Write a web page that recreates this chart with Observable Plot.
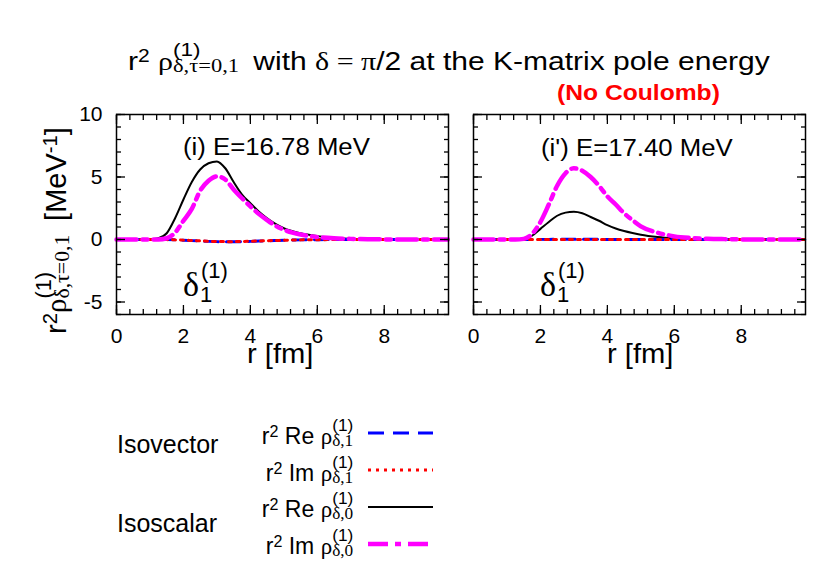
<!DOCTYPE html>
<html><head><meta charset="utf-8">
<script src="https://cdn.jsdelivr.net/npm/d3@7"></script>
<script src="https://cdn.jsdelivr.net/npm/@observablehq/plot@0.6"></script>
<style>
html,body{margin:0;padding:0;background:#fff;}
#wrap{position:relative;width:830px;height:577px;overflow:hidden;background:#fff;font-family:"Liberation Sans",Arial,sans-serif;color:#000;}
.t{position:absolute;white-space:nowrap;line-height:1;transform-origin:0 0;}
.serif{font-family:"Liberation Serif","Times New Roman",serif;}
.up{position:relative;top:-0.42em;font-size:0.7em;}
.st{display:inline-block;position:relative;height:1em;}
.st .sp{position:absolute;left:0;top:-0.205em;font-size:0.75em;line-height:1;white-space:nowrap;font-family:"Liberation Sans",sans-serif;}
.st .sb{position:absolute;left:0;top:0.672em;font-size:0.75em;line-height:1;white-space:nowrap;font-family:"Liberation Serif",serif;}
.plot{position:absolute;top:0;}
</style></head><body><div id="wrap"></div>
<script>
// ---- data ----
const rGrid = [0, 0.5, 1.0, 1.25, 1.5, 1.75, 2.0, 2.25, 2.5, 2.75, 3.0, 3.25, 3.5, 3.75, 4.0, 4.25, 4.5, 4.75, 5.0, 5.5, 6.0, 6.5, 7.0, 7.5, 8.0, 9.0, 9.9];

// panel (i) E = 16.78 MeV
const p1Re1 = [0, 0, 0, 0, -0.01, -0.03, -0.06, -0.09, -0.12, -0.15, -0.17, -0.18, -0.18, -0.17, -0.15, -0.12, -0.1, -0.08, -0.06, -0.03, -0.015, -0.005, 0, 0, 0, 0, 0];
const p1Im1 = [0, 0, 0, 0, -0.01, -0.03, -0.05, -0.08, -0.11, -0.14, -0.16, -0.17, -0.17, -0.16, -0.14, -0.12, -0.1, -0.08, -0.06, -0.03, -0.015, -0.005, 0, 0, 0, 0, 0];
const p1Re0 = [0, 0, 0.01, 0.1, 0.5, 1.7, 3.2, 4.6, 5.6, 6.1, 6.25, 5.7, 4.6, 3.6, 2.9, 2.25, 1.7, 1.25, 0.9, 0.5, 0.27, 0.12, 0.06, 0.03, 0.01, 0, 0];
const p1Im0 = [0, 0, 0, 0, 0.1, 0.55, 1.5, 2.45, 3.9, 4.7, 5.05, 4.8, 4.0, 3.3, 2.65, 2.05, 1.55, 1.1, 0.78, 0.4, 0.2, 0.1, 0.05, 0.02, 0.01, 0, 0];

// panel (i') E = 17.40 MeV
const p2Re1 = [0, 0, 0, 0, 0, 0, 0.01, 0.01, 0.02, 0.02, 0.02, 0.02, 0.02, 0.01, 0.01, 0.01, 0, 0, 0, 0, 0, 0, 0, 0, 0, 0, 0];
const p2Im1 = [0, 0, 0, 0, 0, 0, 0, 0, 0, 0, 0, 0, 0, 0, 0, 0, 0, 0, 0, 0, 0, 0, 0, 0, 0, 0, 0];
const p2Re0 = [0, 0, 0, 0.01, 0.05, 0.3, 0.85, 1.4, 1.9, 2.15, 2.22, 2.1, 1.8, 1.5, 1.15, 0.88, 0.68, 0.52, 0.38, 0.2, 0.1, 0.05, 0.02, 0.01, 0, 0, 0];
const p2Im0 = [0, 0, 0, 0, 0.05, 0.45, 1.4, 2.8, 4.3, 5.3, 5.7, 5.5, 5.0, 4.3, 3.45, 2.8, 2.1, 1.55, 1.05, 0.55, 0.25, 0.12, 0.06, 0.03, 0.01, 0, 0];

// ticks
const xMajor = [0, 2, 4, 6, 8];
const xMinor = d3.range(0, 9.9, 0.4);
const yMajor = [-5, 0, 5, 10];
const yMinor = d3.range(-6, 11, 1);

// ---- plotting ----
const wrap = document.getElementById("wrap");
const noText = () => "";

function makePanel(re1, im1, re0, im0, showY) {
  const rows = a => rGrid.map((r, i) => ({r, v: a[i]}));
  const tick = (axis, anchor, ticks, size) =>
    axis({anchor, ticks, tickSize: -size, tickFormat: noText, label: null, strokeWidth: 1.3});
  const marks = [
    Plot.line(rows(re0), {x: "r", y: "v", stroke: "#000", strokeWidth: 2, curve: "monotone-x"}),
    Plot.line(rows(re1), {x: "r", y: "v", stroke: "#0000ff", strokeWidth: 3, strokeDasharray: "14,8", curve: "monotone-x"}),
    Plot.line(rows(im1), {x: "r", y: "v", stroke: "#ff0000", strokeWidth: 3, strokeDasharray: "3,5", curve: "monotone-x"}),
    Plot.line(rows(im0), {x: "r", y: "v", stroke: "#ff00ff", strokeWidth: 4.5, strokeDasharray: "20,6,5,6", curve: "monotone-x"}),
    tick(Plot.axisX, "bottom", xMajor, 9), tick(Plot.axisX, "bottom", xMinor, 5),
    tick(Plot.axisX, "top", xMajor, 9), tick(Plot.axisX, "top", xMinor, 5),
    tick(Plot.axisY, "left", yMajor, 9), tick(Plot.axisY, "left", yMinor, 5),
    tick(Plot.axisY, "right", yMajor, 9), tick(Plot.axisY, "right", yMinor, 5),
    Plot.axisX({anchor: "bottom", ticks: xMajor, tickSize: 0, tickPadding: 14, fontSize: 21, tickFormat: d => String(d), label: null}),
    Plot.frame({stroke: "#000", strokeWidth: 1.5})
  ];
  if (showY) marks.push(Plot.axisY({anchor: "left", ticks: yMajor, tickSize: 0, tickPadding: 14, fontSize: 21, tickFormat: d => String(d), label: null}));
  return Plot.plot({
    width: showY ? 460 : 370, height: 380,
    marginLeft: showY ? 116 : 13, marginRight: showY ? 12 : 25, marginTop: 114, marginBottom: 66,
    x: {domain: [0, 9.92]}, y: {domain: [-6, 10]},
    style: {fontFamily: "Liberation Sans, Arial, sans-serif", fontSize: "21px", background: "transparent", color: "black", overflow: "visible"},
    marks
  });
}

const pl1 = makePanel(p1Re1, p1Im1, p1Re0, p1Im0, true);
pl1.classList.add("plot"); pl1.style.left = "0px";
const pl2 = makePanel(p2Re1, p2Im1, p2Re0, p2Im0, false);
pl2.classList.add("plot"); pl2.style.left = "460px";
wrap.appendChild(pl1); wrap.appendChild(pl2);

// ---- text ----
const rho = (sub, w) => `<span class="serif">ρ</span><span class="st" style="width:${w}em"><span class="sp">(1)</span><span class="sb">${sub}</span></span>`;
function addText(html, o) {
  const d = document.createElement("div");
  d.className = "t";
  d.innerHTML = html;
  d.style.fontSize = o.size + "px";
  if (o.family) d.style.fontFamily = o.family;
  if (o.weight) d.style.fontWeight = o.weight;
  if (o.color) d.style.color = o.color;
  if (o.rotate) {
    d.style.left = (o.baseline - 0.8465 * o.size) + "px";
    d.style.top = o.start + "px";
    d.style.transform = "rotate(-90deg)";
  } else {
    d.style.top = (o.baseline - 0.8465 * o.size) + "px";
    if (o.right != null) { d.style.right = (830 - o.right) + "px"; d.style.textAlign = "right"; }
    else d.style.left = o.left + "px";
    if (o.scale) d.style.transform = `scaleX(${o.scale})`;
  }
  wrap.appendChild(d);
  return d;
}

addText(`r<span class="up">2</span> ${rho("δ,τ=0,1", 2.4)} with <span class="serif">δ = π</span>/2 at the K-matrix pole energy`, {left: 128, baseline: 66, size: 25, scale: 1.2});
addText("(No Coulomb)", {left: 557, baseline: 101, size: 22, weight: "bold", color: "#ff0000", scale: 1.12});
addText("(i) E=16.78 MeV", {left: 183, baseline: 155, size: 23, scale: 1.12});
addText("(i') E=17.40 MeV", {left: 541, baseline: 156, size: 23, scale: 1.12});
[183, 540].forEach(x0 => {
  addText("δ", {left: x0, baseline: 297, size: 34, family: "Liberation Serif, serif"});
  addText("(1)", {left: x0 + 18, baseline: 279, size: 22});
  addText("1", {left: x0 + 17, baseline: 303, size: 22});
});
addText("r [fm]", {left: 247, baseline: 364, size: 27, scale: 1.08});
addText("r [fm]", {left: 607, baseline: 364, size: 27, scale: 1.08});
addText(`r<span class="up">2</span>${rho("δ,τ=0,1", 2.4)} [MeV<span class="up">-1</span>]`, {rotate: true, baseline: 62, start: 334, size: 29});

// legend
addText("Isovector", {left: 117, baseline: 453, size: 25});
addText("Isoscalar", {left: 117, baseline: 532, size: 25});
const legendLabels = [
  `r<span class="up">2</span> Re ${rho("δ,1", 0.95)}`,
  `r<span class="up">2</span> Im ${rho("δ,1", 0.95)}`,
  `r<span class="up">2</span> Re ${rho("δ,0", 0.95)}`,
  `r<span class="up">2</span> Im ${rho("δ,0", 0.95)}`
];
const legendBase = [440, 477, 513, 550];
legendLabels.forEach((h, i) => addText(h, {right: 354, baseline: legendBase[i], size: 23}));
const legendStyles = [
  {stroke: "#0000ff", w: 3, dash: "16,9"},
  {stroke: "#ff0000", w: 3, dash: "3,5"},
  {stroke: "#000000", w: 2, dash: null},
  {stroke: "#ff00ff", w: 4.5, dash: "20,7,6,7"}
];
const legendY = [433, 470, 507, 544];
const ns = "http://www.w3.org/2000/svg";
const lsvg = document.createElementNS(ns, "svg");
lsvg.setAttribute("width", 830); lsvg.setAttribute("height", 577);
lsvg.style.position = "absolute"; lsvg.style.left = "0"; lsvg.style.top = "0";
legendStyles.forEach((s, i) => {
  const l = document.createElementNS(ns, "line");
  l.setAttribute("x1", 368); l.setAttribute("x2", 433);
  l.setAttribute("y1", legendY[i]); l.setAttribute("y2", legendY[i]);
  l.setAttribute("stroke", s.stroke); l.setAttribute("stroke-width", s.w);
  if (s.dash) l.setAttribute("stroke-dasharray", s.dash);
  lsvg.appendChild(l);
});
wrap.appendChild(lsvg);
</script></body></html>
